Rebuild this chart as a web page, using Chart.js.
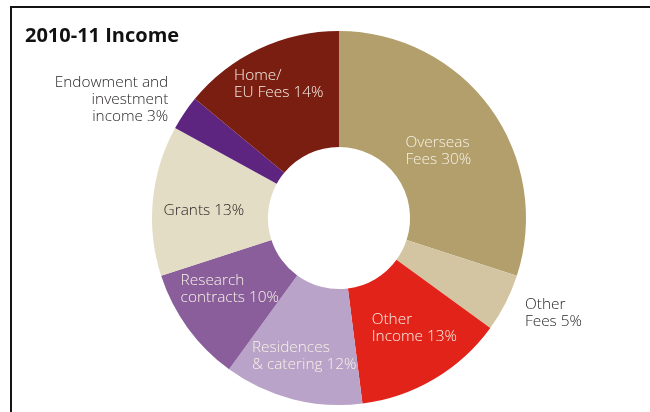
<!DOCTYPE html>
<html>
<head>
<meta charset="utf-8">
<title>2010-11 Income</title>
<script src="https://cdn.jsdelivr.net/npm/chart.js@4/dist/chart.umd.min.js"></script>
<style>
  html, body { margin:0; padding:0; background:#fff; }
  #wrap { position:relative; width:650px; height:412px; overflow:hidden; }
  #frame { position:absolute; left:10px; top:6px; width:700px; height:460px;
           border-left:2px solid #141414; border-top:2px solid #141414; }
  #title { position:absolute; left:25px; top:21px; font-family:"Open Sans", sans-serif;
           font-weight:700; font-size:20px; color:#111; }
  canvas { position:absolute; left:0; top:0; }
</style>
</head>
<body>
<div id="wrap">
  <div id="frame"></div>
  <canvas id="income" width="650" height="412"></canvas>
  <div id="title">2010-11 Income</div>
</div>
<script>
// Income sources, clockwise from 12 o'clock
const categories = ["Overseas Fees","Other Fees","Other Income","Residences & catering",
                    "Research contracts","Grants","Endowment and investment income","Home/EU Fees"];
const shares = [30, 5, 13, 12, 10, 13, 3, 14];
const colours = ["#b39f6c","#d3c5a2","#e2231a","#b9a3c8","#8a5e9b","#e4ddc5","#5d2480","#7b1e12"];

// label text lines per slice
const labelLines = [
  ["Overseas", "Fees 30%"],
  ["Other", "Fees 5%"],
  ["Other", "Income 13%"],
  ["Residences", "& catering 12%"],
  ["Research", "contracts 10%"],
  ["Grants 13%"],
  ["Endowment and", "investment", "income 3%"],
  ["Home/", "EU Fees 14%"]
];
// how each label sits against the middle of its slice: [dx, dy, align, dark text]
const labelPlace = [
  [-38, 9, "left", false],
  [71, 37, "left", true],
  [-33, -1, "left", false],
  [-55, 13, "left", false],
  [-54, -5, "left", false],
  [-47, 5, "left", true],
  [-64, -46, "right", true],
  [-50, -17, "left", false]
];

const sliceLabels = {
  id: "sliceLabels",
  afterDatasetsDraw(chart) {
    const ctx = chart.ctx;
    const arcs = chart.getDatasetMeta(0).data;
    ctx.save();
    ctx.font = "300 15.4px 'Open Sans', sans-serif";
    ctx.textBaseline = "middle";
    arcs.forEach((arc, i) => {
      const p = arc.tooltipPosition();
      const [dx, dy, align, dark] = labelPlace[i];
      const lines = labelLines[i];
      ctx.fillStyle = dark ? "#231f20" : "#f6f1e6";
      ctx.textAlign = align;
      const lh = 17;
      const top = p.y + dy - (lines.length - 1) * lh / 2;
      lines.forEach((t, k) => ctx.fillText(t, p.x + dx, top + k * lh));
    });
    ctx.restore();
  }
};

new Chart(document.getElementById("income"), {
  type: "doughnut",
  data: {
    labels: categories,
    datasets: [{ data: shares, backgroundColor: colours, borderWidth: 0, hoverOffset: 0 }]
  },
  options: {
    responsive: false,
    animation: false,
    cutout: "38%",
    rotation: 0,
    layout: { padding: { top: 31, bottom: 7, left: 152, right: 124 } },
    plugins: { legend: { display: false }, tooltip: { enabled: false } }
  },
  plugins: [sliceLabels]
});
</script>
</body>
</html>
